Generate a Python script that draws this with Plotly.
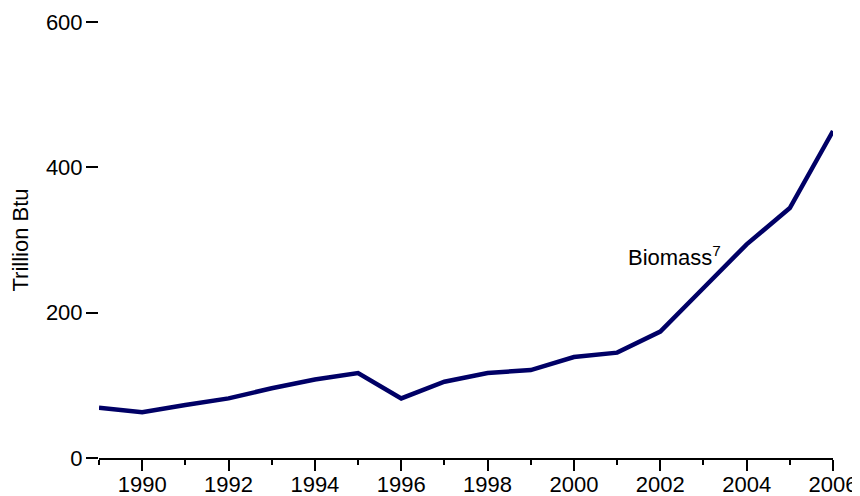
import plotly.graph_objects as go

years = list(range(1989, 2007))
biomass = [69, 63, 73, 82, 96, 108, 117, 82, 105, 117, 121, 139, 145, 174,
           234, 294, 344, 450]

y_ticks = [0, 200, 400, 600]
x_ticks = list(range(1990, 2007, 2))

fig = go.Figure()
fig.add_trace(go.Scatter(
    x=years, y=biomass,
    mode="lines",
    line=dict(color="#000066", width=4.5),
    showlegend=False,
))
fig.add_annotation(
    x=2001.2, y=278,
    text="Biomass<sup>7</sup>",
    showarrow=False,
    xanchor="left", yanchor="middle",
    font=dict(size=22, color="black"),
)
# page body has an 8px margin, so the plot box is offset by it
fig.update_layout(
    width=852, height=488,
    margin=dict(l=91, r=27, t=14, b=38),
    plot_bgcolor="white",
    paper_bgcolor="white",
    font=dict(family="Liberation Sans, Arial, sans-serif", size=22, color="black"),
    xaxis=dict(
        range=[1989, 2006],
        tickvals=x_ticks,
        tickfont=dict(size=22),
        ticks="outside", ticklen=11, tickwidth=2, tickcolor="black",
        ticklabelstandoff=-5,
        showline=True, linecolor="black", linewidth=2,
        showgrid=False, zeroline=False, automargin=False,
        minor=dict(dtick=1, tick0=1989, ticks="outside", ticklen=5,
                   tickwidth=2, tickcolor="black", showgrid=False),
    ),
    yaxis=dict(
        range=[0, 600],
        tickvals=y_ticks,
        tickfont=dict(size=22),
        ticks="outside", ticklen=12, tickwidth=2, tickcolor="black",
        ticklabelstandoff=-1,
        showline=False, showgrid=False, zeroline=False, automargin=False,
        title=dict(text="Trillion Btu", standoff=12, font=dict(size=22)),
    ),
)
fig.write_html("out.html")
